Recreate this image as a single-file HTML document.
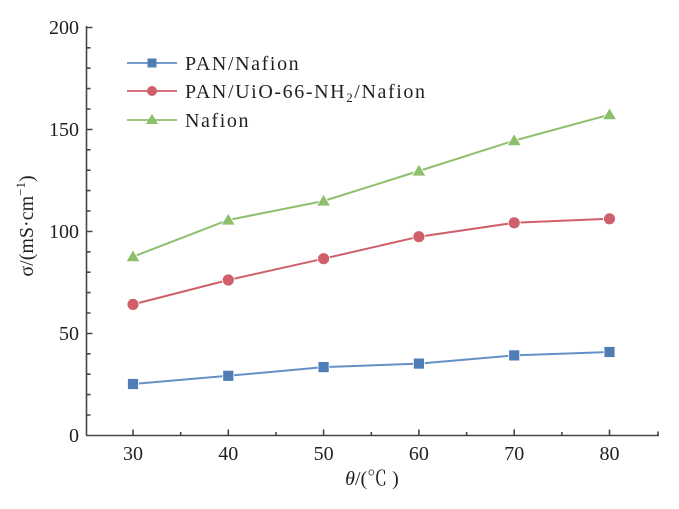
<!DOCTYPE html>
<html><head><meta charset="utf-8"><style>
html,body{margin:0;padding:0;background:#fff;}
svg{display:block;}
text{font-family:"Liberation Serif","Noto Serif CJK SC",serif;fill:#231f20;}
</style></head><body>
<svg width="679" height="509" viewBox="0 0 679 509" xmlns="http://www.w3.org/2000/svg">
<g stroke="#4a4446" stroke-width="1.6" fill="none">
<line x1="86.5" y1="26" x2="86.5" y2="435.5"/>
<line x1="86" y1="435.5" x2="659" y2="435.5"/>
<path d="M86.5 27.5h6M86.5 129.5h6M86.5 231.5h6M86.5 333.5h6"/>
<path d="M86.5 47.8h4M86.5 68.2h4M86.5 88.6h4M86.5 109h4M86.5 149.8h4M86.5 170.2h4M86.5 190.6h4M86.5 211h4M86.5 251.8h4M86.5 272.2h4M86.5 292.6h4M86.5 313h4M86.5 353.8h4M86.5 374.2h4M86.5 394.6h4M86.5 415h4"/>
<path d="M133 435.5v-6M228.3 435.5v-6M323.6 435.5v-6M418.9 435.5v-6M514.2 435.5v-6M609.5 435.5v-6"/>
<path d="M180.7 435.5v-3.5M276 435.5v-3.5M371.3 435.5v-3.5M466.6 435.5v-3.5M561.9 435.5v-3.5M658 435.5v-4"/>
</g>
<g font-size="20" text-anchor="end">
<text x="79" y="34">200</text>
<text x="79" y="136">150</text>
<text x="79" y="238">100</text>
<text x="79" y="340">50</text>
<text x="79" y="442">0</text>
</g>
<g font-size="20" text-anchor="middle">
<text x="133" y="460">30</text>
<text x="228.3" y="460">40</text>
<text x="323.6" y="460">50</text>
<text x="418.9" y="460">60</text>
<text x="514.2" y="460">70</text>
<text x="609.5" y="460">80</text>
</g>
<text x="372" y="485" font-size="20" text-anchor="middle"><tspan font-style="italic">θ</tspan>/(℃ )</text>
<text transform="translate(33,226) rotate(-90)" font-size="20" text-anchor="middle">σ/(mS·cm<tspan font-size="13" dy="-8">−1</tspan><tspan dy="8">)</tspan></text>

<polyline points="133,256.7 228.3,220 323.6,201 418.9,171 514.2,140.6 609.5,114.7" fill="none" stroke="#8dbf6c" stroke-width="2"/>
<g fill="#8dbf6c" stroke="#fff" stroke-width="0.8">
<path d="M133 249.7l7 12h-14z"/>
<path d="M228.3 213l7 12h-14z"/>
<path d="M323.6 194l7 12h-14z"/>
<path d="M418.9 164l7 12h-14z"/>
<path d="M514.2 133.6l7 12h-14z"/>
<path d="M609.5 107.7l7 12h-14z"/>
</g>
<polyline points="133,304.4 228.3,280 323.6,258.7 418.9,236.7 514.2,222.8 609.5,218.8" fill="none" stroke="#cf5f6b" stroke-width="2"/>
<g fill="#cf5f6b" stroke="#fff" stroke-width="0.8">
<circle cx="133" cy="304.4" r="6"/>
<circle cx="228.3" cy="280" r="6"/>
<circle cx="323.6" cy="258.7" r="6"/>
<circle cx="418.9" cy="236.7" r="6"/>
<circle cx="514.2" cy="222.8" r="6"/>
<circle cx="609.5" cy="218.8" r="6"/>
</g>
<polyline points="133,384 228.3,375.8 323.6,367.1 418.9,363.6 514.2,355.4 609.5,352" fill="none" stroke="#6390c6" stroke-width="2"/>
<g fill="#4f7db6" stroke="#fff" stroke-width="0.8">
<rect x="127.5" y="378.5" width="11" height="11"/>
<rect x="222.8" y="370.3" width="11" height="11"/>
<rect x="318.1" y="361.6" width="11" height="11"/>
<rect x="413.4" y="358.1" width="11" height="11"/>
<rect x="508.7" y="349.9" width="11" height="11"/>
<rect x="604" y="346.5" width="11" height="11"/>
</g>

<line x1="127" y1="63" x2="177" y2="63" stroke="#6390c6" stroke-width="1.8"/>
<rect x="147.5" y="58.5" width="9" height="9" fill="#4f7db6"/>
<line x1="127" y1="91" x2="177" y2="91" stroke="#cf5f6b" stroke-width="1.8"/>
<circle cx="152" cy="91" r="5" fill="#cf5f6b"/>
<line x1="127" y1="120" x2="177" y2="120" stroke="#8dbf6c" stroke-width="1.8"/>
<path d="M152 114l6 10h-12z" fill="#8dbf6c"/>
<g font-size="20" letter-spacing="1.6">
<text x="185" y="70">PAN/Nafion</text>
<text x="185" y="98">PAN/UiO-66-NH<tspan font-size="13" dy="4">2</tspan><tspan dy="-4">/Nafion</tspan></text>
<text x="185" y="127">Nafion</text>
</g>
</svg>
</body></html>
